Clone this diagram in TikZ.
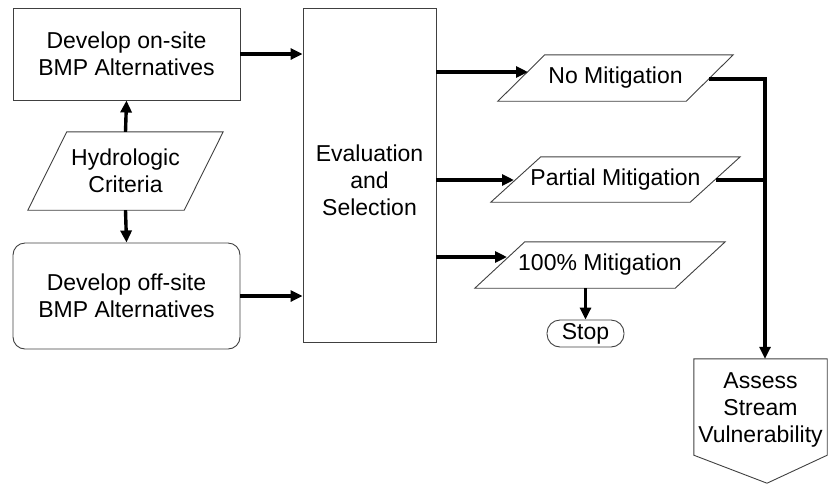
\documentclass[tikz,border=0pt]{standalone}
\usepackage{fontspec}
\setmainfont{Liberation Sans}
\usetikzlibrary{arrows.meta,calc}
\begin{document}
\begin{tikzpicture}[x=1pt,y=-1pt,
  txt/.style={font=\fontsize{23}{27}\selectfont, align=center, inner sep=0pt},
  boxline/.style={draw=black!75, line width=0.9pt},
  arr/.style={line width=3.4pt, -{Triangle[length=12pt,width=11pt]}},
  conn/.style={line width=3.4pt}]
\useasboundingbox (0,0) rectangle (829,483);

% left column
\node[txt, boxline, minimum width=227, minimum height=92] (onsite) at (126.5,54) {Develop on-site\\BMP Alternatives};
\node[txt, minimum width=195, minimum height=78] (hydro) at (125.5,171) {Hydrologic\\Criteria};
\draw[boxline] (hydro.south west) -- ($(hydro.north west)+(39,0)$) -- (hydro.north east) -- ($(hydro.south east)+(-39,0)$) -- cycle;
\node[txt, boxline, rounded corners=12pt, minimum width=227, minimum height=106] (offsite) at (126.5,296) {Develop off-site\\BMP Alternatives};

% evaluation
\node[boxline, minimum width=133, minimum height=334, inner sep=0pt] (eval) at (369.5,175) {};
\node[txt] (evaltext) at ($(eval.center)+(0,5)$) {Evaluation\\and\\Selection};

% mitigation outputs
\node[txt, minimum width=235, minimum height=46] (nomit) at (615.5,78) {No Mitigation};
\draw[boxline] (nomit.south west) -- ($(nomit.north west)+(47,0)$) -- (nomit.north east) -- ($(nomit.south east)+(-47,0)$) -- cycle;
\node[txt, minimum width=249, minimum height=45] (partial) at (615.5,179.5) {Partial Mitigation};
\draw[boxline] (partial.south west) -- ($(partial.north west)+(50,0)$) -- (partial.north east) -- ($(partial.south east)+(-50,0)$) -- cycle;
\node[txt, minimum width=250, minimum height=46] (full) at (600,265) {100\% Mitigation};
\draw[boxline] (full.south west) -- ($(full.north west)+(50,0)$) -- (full.north east) -- ($(full.south east)+(-50,0)$) -- cycle;

\node[txt, boxline, rounded corners=13pt, minimum width=77, minimum height=27] (stop) at (585.5,333.5) {Stop};

% assess (off-page connector shape)
\node[minimum width=133, minimum height=96, inner sep=0pt] (assess) at (760.5,407) {};
\node[txt] (assesstext) at ($(assess.center)+(0,3)$) {Assess\\Stream\\Vulnerability};
\draw[boxline] (assess.north west) -- (assess.north east) -- (assess.south east) -- ($(assess.south)+(6.5,28)$) -- (assess.south west) -- cycle;

% connector end points on slanted sides
\coordinate (nomitin) at (528,72);
\coordinate (partin) at (514,180);
\coordinate (fullin) at (507,257);
\coordinate (nomitout) at (709,79);
\coordinate (partout) at (716,180);
\coordinate (busx) at (765,0);

% connectors
\draw[arr] (hydro.north) -- (onsite.south);
\draw[arr] (hydro.south) -- (offsite.north);
\draw[arr] (onsite.east) -- (onsite.east -| eval.west);
\draw[arr] (offsite.east) -- (offsite.east -| eval.west);
\draw[arr] (eval.east |- nomitin) -- (nomitin);
\draw[arr] (eval.east |- partin) -- (partin);
\draw[arr] (eval.east |- fullin) -- (fullin);
\draw[arr] (stop.north |- full.south) -- (stop.north);
\draw[arr] (nomitout) -- (nomitout -| busx) -- (busx |- assess.north);
\draw[conn] (partout) -- (partout -| busx);
\end{tikzpicture}
\end{document}
